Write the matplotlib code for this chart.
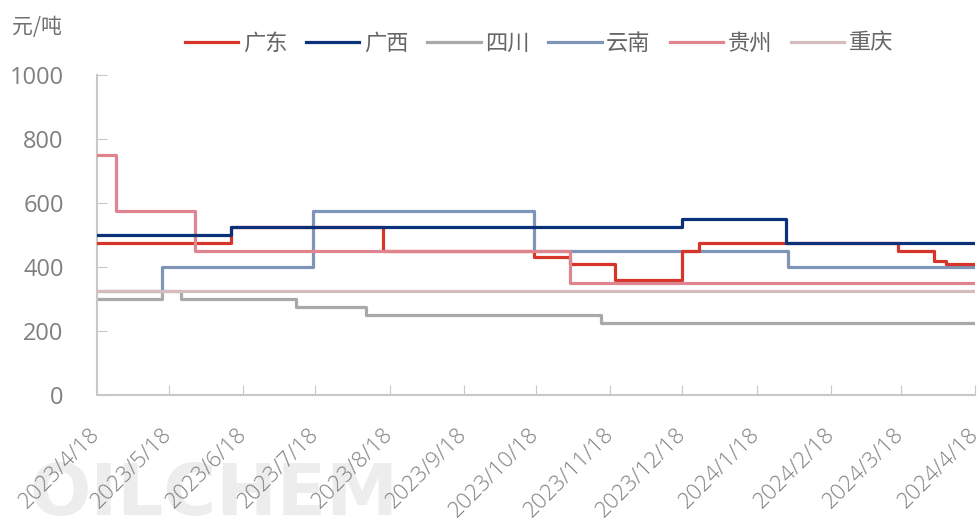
import matplotlib
matplotlib.use("Agg")
import matplotlib.pyplot as plt
import pandas as pd

plt.rcParams["font.family"] = ["Noto Sans CJK SC", "DejaVu Sans"]

# ============================================================
# 数据：各省价格（元/吨），记录每次调价日期及调价后价格
# ============================================================
END_DATE = "2024-04-18"

gd_dates = ["2023-04-18", "2023-06-13", "2023-08-15", "2023-10-17", "2023-11-01",
            "2023-11-20", "2023-12-18", "2023-12-25", "2024-03-17", "2024-04-01",
            "2024-04-06", END_DATE]
gd_values = [475, 525, 450, 430, 410, 360, 450, 475, 450, 420, 410, 410]

gx_dates = ["2023-04-18", "2023-06-13", "2023-12-18", "2024-01-30", END_DATE]
gx_values = [500, 525, 550, 475, 475]

sc_dates = ["2023-04-18", "2023-05-15", "2023-05-23", "2023-07-10", "2023-08-08",
            "2023-11-14", END_DATE]
sc_values = [300, 325, 300, 275, 250, 225, 225]

yn_dates = ["2023-04-18", "2023-05-15", "2023-07-17", "2023-10-17", "2024-01-31", END_DATE]
yn_values = [325, 400, 575, 450, 400, 400]

gz_dates = ["2023-04-18", "2023-04-26", "2023-05-29", "2023-11-01", END_DATE]
gz_values = [750, 575, 450, 350, 350]

cq_dates = ["2023-04-18", END_DATE]
cq_values = [325, 325]

tick_dates = ["2023-04-18", "2023-05-18", "2023-06-18", "2023-07-18", "2023-08-18",
              "2023-09-18", "2023-10-18", "2023-11-18", "2023-12-18", "2024-01-18",
              "2024-02-18", "2024-03-18", "2024-04-18"]
tick_labels = ["2023/4/18", "2023/5/18", "2023/6/18", "2023/7/18", "2023/8/18",
               "2023/9/18", "2023/10/18", "2023/11/18", "2023/12/18", "2024/1/18",
               "2024/2/18", "2024/3/18", "2024/4/18"]

series = [
    ("广东", gd_dates, gd_values, "#d7342a", 4),
    ("广西", gx_dates, gx_values, "#0b3178", 6),
    ("四川", sc_dates, sc_values, "#a9a9a9", 1),
    ("云南", yn_dates, yn_values, "#7f95b7", 2),
    ("贵州", gz_dates, gz_values, "#df858f", 5),
    ("重庆", cq_dates, cq_values, "#d6bcbc", 3),
]

# ============================================================
# 绘图
# ============================================================
fig = plt.figure(figsize=(9.8, 5.25), dpi=100)
ax = fig.add_axes([0.099, 0.2476, 0.896, 0.6094])
ax.patch.set_alpha(0)

# 水印（放在坐标轴下层）
fig.text(0.03, 0.02, "OILCHEM", fontsize=52, fontweight="bold", color="#ededed",
         family="DejaVu Sans", va="baseline", ha="left", zorder=-1)

for name, dates, values, color, z in series:
    ax.step(pd.to_datetime(dates), values, where="post", color=color,
            linewidth=2.3, label=name, zorder=z)

ax.set_ylim(0, 1000)
ax.set_yticks([0, 200, 400, 600, 800, 1000])
ax.set_xlim(pd.Timestamp(tick_dates[0]), pd.Timestamp(tick_dates[-1]))
ax.set_xticks(pd.to_datetime(tick_dates))
ax.set_xticklabels(tick_labels, rotation=45, ha="right", va="center",
                   rotation_mode="anchor", fontsize=16,
                   family=["Open Sans", "DejaVu Sans"], fontweight="light")
for lbl in ax.get_yticklabels():
    lbl.set_family(["Open Sans", "DejaVu Sans"])

tick_color = "#808080"
ax.tick_params(axis="both", direction="in", length=7, color="#c8c8c8",
               labelcolor=tick_color)
ax.tick_params(axis="y", pad=24, labelsize=17)
ax.tick_params(axis="x", pad=26)

for side in ["top", "right"]:
    ax.spines[side].set_visible(False)
for side in ["left", "bottom"]:
    ax.spines[side].set_color("#c8c8c8")
    ax.spines[side].set_linewidth(1.5)

fig.text(0.012, 0.948, "元/吨", fontsize=15, color="#707070", va="center", ha="left")

fig.legend(loc="center", bbox_to_anchor=(0.55, 0.918), ncol=6, frameon=False,
           fontsize=16, handlelength=2.4, handletextpad=0.2, columnspacing=0.85,
           labelcolor="#666666")

fig.savefig("out.png", dpi=100, facecolor="white")
